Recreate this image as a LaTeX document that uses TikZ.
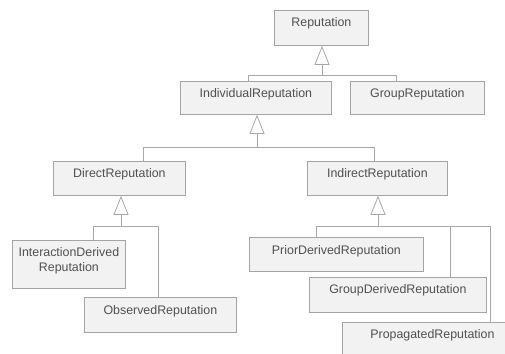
\documentclass[tikz,border=0pt]{standalone}
\usepackage{fontspec}
\setmainfont{Liberation Sans}
\usetikzlibrary{arrows.meta}
\definecolor{boxline}{HTML}{A4A4A4}
\definecolor{boxfill}{HTML}{F2F2F2}
\definecolor{txt}{HTML}{505050}
\definecolor{conn}{HTML}{A8A8A8}
\tikzset{
  box/.style={draw=boxline, fill=boxfill, text=txt, line width=0.8pt,
    inner xsep=0pt, inner ysep=0pt, minimum height=0pt, anchor=north west,
    font=\fontsize{12.4}{15}\selectfont},
  bx/.style n args={3}{minimum width=#1, text height=#2, text depth=#3},
  conline/.style={draw=conn, line width=0.8pt},
  gen/.style={conline, -{Triangle[open, length=19pt, width=15pt]}},
}
\begin{document}
\begin{tikzpicture}[x=1pt, y=-1pt]
\useasboundingbox (0,0) rectangle (505,353);
\clip (0,0) rectangle (505,353);
% boxes
\node[box, bx={94pt}{16pt}{19pt}] (rep) at (274,10) {Reputation};
\node[box, bx={151pt}{16pt}{17pt}] (ind) at (180,81) {IndividualReputation};
\node[box, bx={134pt}{16pt}{17pt}] (grp) at (350,81) {GroupReputation};
\node[box, bx={132pt}{16pt}{18pt}] (dir) at (53,161) {DirectReputation};
\node[box, bx={140pt}{16pt}{18pt}] (indir) at (307,161) {IndirectReputation};
\node[box, bx={113pt}{31pt}{17pt}, align=center] (inter) at (12,240) {InteractionDerived\\Reputation};
\node[box, bx={152pt}{17.5pt}{17.5pt}] (obs) at (84,297) {ObservedReputation};
\node[box, bx={174pt}{17pt}{17pt}] (prior) at (249,237) {PriorDerivedReputation};
\node[box, bx={177pt}{16.5pt}{18.5pt}] (gder) at (309,277) {GroupDerivedReputation};
\node[box, bx={180pt}{16.5pt}{22pt}] (prop) at (342,322) {PropagatedReputation};
% junction coordinates
\coordinate (j1) at (322,75);
\coordinate (a1) at (248,75);
\coordinate (b1) at (396,75);
\coordinate (j2) at (257,147);
\coordinate (a2) at (143,147);
\coordinate (b2) at (374,147);
\coordinate (j3) at (121,226);
\coordinate (a3) at (93,226);
\coordinate (b3) at (158,226);
\coordinate (j4) at (378,226);
\coordinate (a4) at (316,226);
\coordinate (b4) at (450,226);
\coordinate (c4) at (490,226);
% level 1
\draw[gen] (j1) -- (j1 |- rep.south);
\draw[conline] (a1 |- ind.north) -- (a1) -- (b1) -- (b1 |- grp.north);
% level 2
\draw[gen] (j2) -- (j2 |- ind.south);
\draw[conline] (a2 |- dir.north) -- (a2) -- (b2) -- (b2 |- indir.north);
% level 3 direct
\draw[gen] (j3) -- (j3 |- dir.south);
\draw[conline] (a3 |- inter.north) -- (a3) -- (b3) -- (b3 |- obs.north);
% level 3 indirect
\draw[gen] (j4) -- (j4 |- indir.south);
\draw[conline] (a4 |- prior.north) -- (a4) -- (c4) -- (c4 |- prop.north);
\draw[conline] (b4) -- (b4 |- gder.north);
\end{tikzpicture}
\end{document}
